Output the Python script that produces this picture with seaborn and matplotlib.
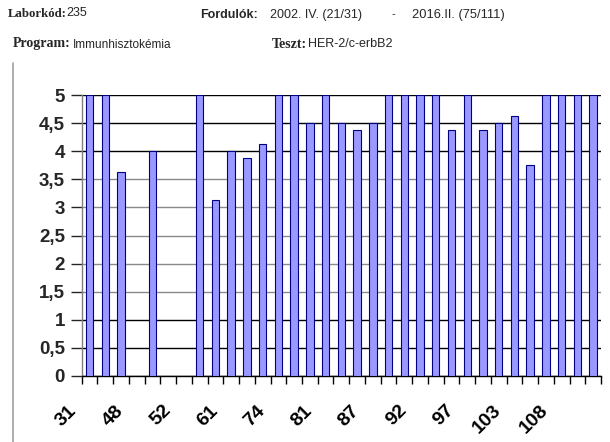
import numpy as np
import pandas as pd
import matplotlib
matplotlib.use("Agg")
import matplotlib.pyplot as plt
import matplotlib.transforms as mtransforms
from matplotlib.lines import Line2D
import seaborn as sns

# ---- data ----
slots = list(range(33))
values = [5, 5, 3.625, np.nan, 4, np.nan, np.nan, 5, 3.125, 4, 3.875, 4.125, 5, 5,
          4.5, 5, 4.5, 4.375, 4.5, 5, 5, 5, 5, 4.375, 5, 4.375, 4.5, 4.625, 3.75,
          5, 5, 5, 5]
tick_labels = ["31", "48", "52", "61", "74", "81", "87", "92", "97", "103", "108"]
y_ticks = [0, 0.5, 1, 1.5, 2, 2.5, 3, 3.5, 4, 4.5, 5]
y_tick_labels = ["0", "0,5", "1", "1,5", "2", "2,5", "3", "3,5", "4", "4,5", "5"]

df = pd.DataFrame({"slot": slots, "value": values}).dropna()

sns.set_theme(style="white")
plt.rcParams["font.family"] = ["Liberation Sans", "DejaVu Sans"]

W, H = 610, 442
fig = plt.figure(figsize=(W / 100, H / 100), dpi=100)
ax = fig.add_axes([81.7 / W, 1 - 376 / H, (601 - 81.7) / W, (376 - 95) / H])

sns.barplot(data=df, x="slot", y="value", order=slots, color="#9999FF",
            saturation=1, width=0.47, edgecolor="#000080", linewidth=0.8,
            errorbar=None, ax=ax, zorder=3)

ax.set_xlim(-0.5, len(slots) - 0.5)
ax.set_ylim(0, 5)
ax.set_xlabel("")
ax.set_ylabel("")

# y axis
ax.set_yticks(y_ticks)
ax.set_yticklabels(y_tick_labels, fontsize=13.5, fontweight="bold",
                   family="Liberation Sans")
ax.tick_params(axis="y", direction="out", length=8, width=1, pad=4, left=True)
grey_levels = {1.5, 2, 2.5, 3, 3.5}
for yv in y_ticks:
    col = "#8a8a8a" if yv in grey_levels else "#000000"
    ax.axhline(yv, color=col, lw=1, zorder=1)
for t, yv in zip(ax.yaxis.get_major_ticks(), y_ticks):
    col = "#8a8a8a" if yv in grey_levels else "#000000"
    t.tick1line.set_color(col)

# x axis: tick marks at every slot boundary, labels at every third
bounds = np.arange(len(slots) + 1) - 0.5
ax.set_xticks(bounds)
labs = [""] * len(bounds)
for k, lab in enumerate(tick_labels):
    labs[3 * k] = lab
ax.set_xticklabels(labs, rotation=45, ha="right", va="center",
                   rotation_mode="anchor", fontsize=14, fontweight="bold",
                   family="Liberation Sans")
ax.tick_params(axis="x", direction="out", length=6, width=1, pad=17,
               bottom=True, colors="black")
shift = mtransforms.ScaledTranslation(-8 / 100, 0, fig.dpi_scale_trans)
for lbl in ax.get_xticklabels():
    lbl.set_transform(lbl.get_transform() + shift)

for s in ["top", "right"]:
    ax.spines[s].set_visible(False)
ax.spines["left"].set_color("#808080")
ax.spines["left"].set_linewidth(1)
ax.spines["bottom"].set_color("black")
ax.spines["bottom"].set_linewidth(1)
ax.grid(False)

# frame line at left
fig.add_artist(Line2D([13 / W, 13 / W], [0, 1 - 63 / H], color="#a0a0a0", lw=1.2))

# header texts
def ftxt(x, y, s, **kw):
    fig.text(x / W, 1 - y / H, s, va="center", ha="left", **kw)

ftxt(8, 14, "Laborkód:", family="Liberation Serif", fontweight="bold", fontsize=9.2)
ftxt(66, 13, "235", family="Liberation Sans", fontsize=9)
ftxt(200, 15, "Fordulók:", family="Liberation Sans", fontweight="bold", fontsize=9)
ftxt(270, 15, "2002. IV. (21/31)", family="Liberation Sans", fontsize=9)
ftxt(392, 14, "-", family="Liberation Sans", fontsize=8)
ftxt(412, 15, "2016.II. (75/111)", family="Liberation Sans", fontsize=9.3)
ftxt(13, 44, "Program:", family="Liberation Serif", fontweight="bold", fontsize=10)
ftxt(73, 45, "Immunhisztokémia", family="Liberation Sans", fontsize=8.5)
ftxt(272, 44, "Teszt:", family="Liberation Serif", fontweight="bold", fontsize=10)
ftxt(308, 44, "HER-2/c-erbB2", family="Liberation Sans", fontsize=9)

fig.savefig("out.png", dpi=100, facecolor="white")
